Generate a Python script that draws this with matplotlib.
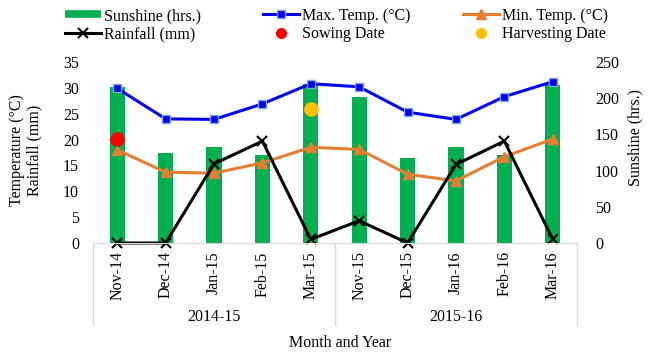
import matplotlib
matplotlib.use("Agg")
import matplotlib.pyplot as plt
import matplotlib.transforms as mtransforms
from matplotlib.lines import Line2D

plt.rcParams['font.family'] = ['Liberation Serif', 'DejaVu Serif']
plt.rcParams['font.size'] = 11.5

# Data
months = ['Nov-14', 'Dec-14', 'Jan-15', 'Feb-15', 'Mar-15',
          'Nov-15', 'Dec-15', 'Jan-16', 'Feb-16', 'Mar-16']
seasons = ['2014-15', '2015-16']
season_len = [5, 5]
sunshine = [216, 124, 133, 121, 220, 201, 118, 133, 122, 218]
max_temp = [29.9, 24.0, 23.9, 26.9, 30.8, 30.2, 25.3, 23.9, 28.3, 31.2]
min_temp = [18.0, 13.7, 13.5, 15.5, 18.5, 18.1, 13.3, 12.0, 16.7, 20.1]
rainfall = [0, 0, 15.3, 19.7, 0.7, 4.3, 0, 15.2, 19.7, 0.7]
sowing_idx, sowing_val = [0], [20.1]
harvest_idx, harvest_val = [4], [26.0]

green = '#00B050'
blue = '#0000F0'
orange = '#E57E33'
grey = '#D9D9D9'

fig = plt.figure(figsize=(6.65, 3.6), dpi=100)
ax = fig.add_axes([93 / 665, 1 - 243 / 360, 484 / 665, 181 / 360])
ax2 = ax.twinx()
ax.set_zorder(ax2.get_zorder() + 1)
ax.patch.set_visible(False)

x = list(range(len(months)))

# bars on the secondary axis
ax2.bar(x, sunshine, width=0.31, color=green)
ax2.set_ylim(0, 250)
ax2.set_yticks(range(0, 251, 50))

# lines on the primary axis
ax.plot(x, max_temp, color=blue, lw=2.2, marker='s', ms=6,
        mfc=blue, mec='#7FA7E0', mew=1)
ax.plot(x, min_temp, color=orange, lw=2.2, marker='^', ms=7,
        mfc=orange, mec=orange)
ax.plot(x, rainfall, color='black', lw=2.2, marker='x', ms=7, mew=1.5,
        clip_on=False)
ax.plot(sowing_idx, sowing_val, 'o', color='#FF0000', ms=9.5, ls='none')
ax.plot(harvest_idx, harvest_val, 'o', color='#FFC000', ms=9.5, ls='none')

ax.set_xlim(-0.5, len(months) - 0.5)
ax.set_ylim(0, 35)
ax.set_yticks(range(0, 36, 5))
ax.set_xticks(x)
ax.set_xticklabels(months, rotation=90)
ax.tick_params(axis='x', length=0, pad=6)
ax.tick_params(axis='y', length=0, pad=10)
ax2.tick_params(axis='y', length=0, pad=13)

for a in (ax, ax2):
    for s in a.spines.values():
        s.set_visible(False)
ax.spines['bottom'].set_visible(True)
ax.spines['bottom'].set_color(grey)

# multi-level category axis
trans = mtransforms.blended_transform_factory(ax.transData, ax.transAxes)
start = -0.5
ax.plot([start, start], [0, -0.453], color=grey, lw=1, transform=trans, clip_on=False)
for name, n in zip(seasons, season_len):
    ax.text(start + n / 2, -0.409, name, transform=trans, ha='center', va='center')
    start += n
    ax.plot([start, start], [0, -0.453], color=grey, lw=1, transform=trans, clip_on=False)

ax.text(0.51, -0.552, 'Month and Year', transform=ax.transAxes, ha='center', va='center')
fig.text(26 / 665, 1 - 150 / 360, 'Temperature (°C)\nRainfall (mm)', rotation=90,
         ha='center', va='center', multialignment='center', linespacing=1.1)
fig.text(635 / 665, 1 - 137 / 360, 'Sunshine (hrs.)', rotation=90, ha='center', va='center')

# legend, three columns placed separately
columns = [
    [(Line2D([], [], color=green, lw=5.5, solid_capstyle='butt'), 'Sunshine (hrs.)'),
     (Line2D([], [], color='black', lw=2.2, marker='x', ms=7, mew=1.5), 'Rainfall (mm)')],
    [(Line2D([], [], color=blue, lw=2.2, marker='s', ms=6, mfc=blue, mec='#7FA7E0'), 'Max. Temp. (°C)'),
     (Line2D([], [], color='#FF0000', marker='o', ms=7, ls='none'), 'Sowing Date')],
    [(Line2D([], [], color=orange, lw=2.2, marker='^', ms=7), 'Min. Temp. (°C)'),
     (Line2D([], [], color='#FFC000', marker='o', ms=7, ls='none'), 'Harvesting Date')],
]
for left, col in zip([65, 263, 463], columns):
    handles, labels = zip(*col)
    fig.legend(handles, labels, loc='upper left', bbox_to_anchor=(left / 665, 1 - 8 / 360),
               frameon=False, borderpad=0, borderaxespad=0, handlelength=2.25,
               handletextpad=0.2, labelspacing=0.15)

fig.savefig('out.png', dpi=100)
